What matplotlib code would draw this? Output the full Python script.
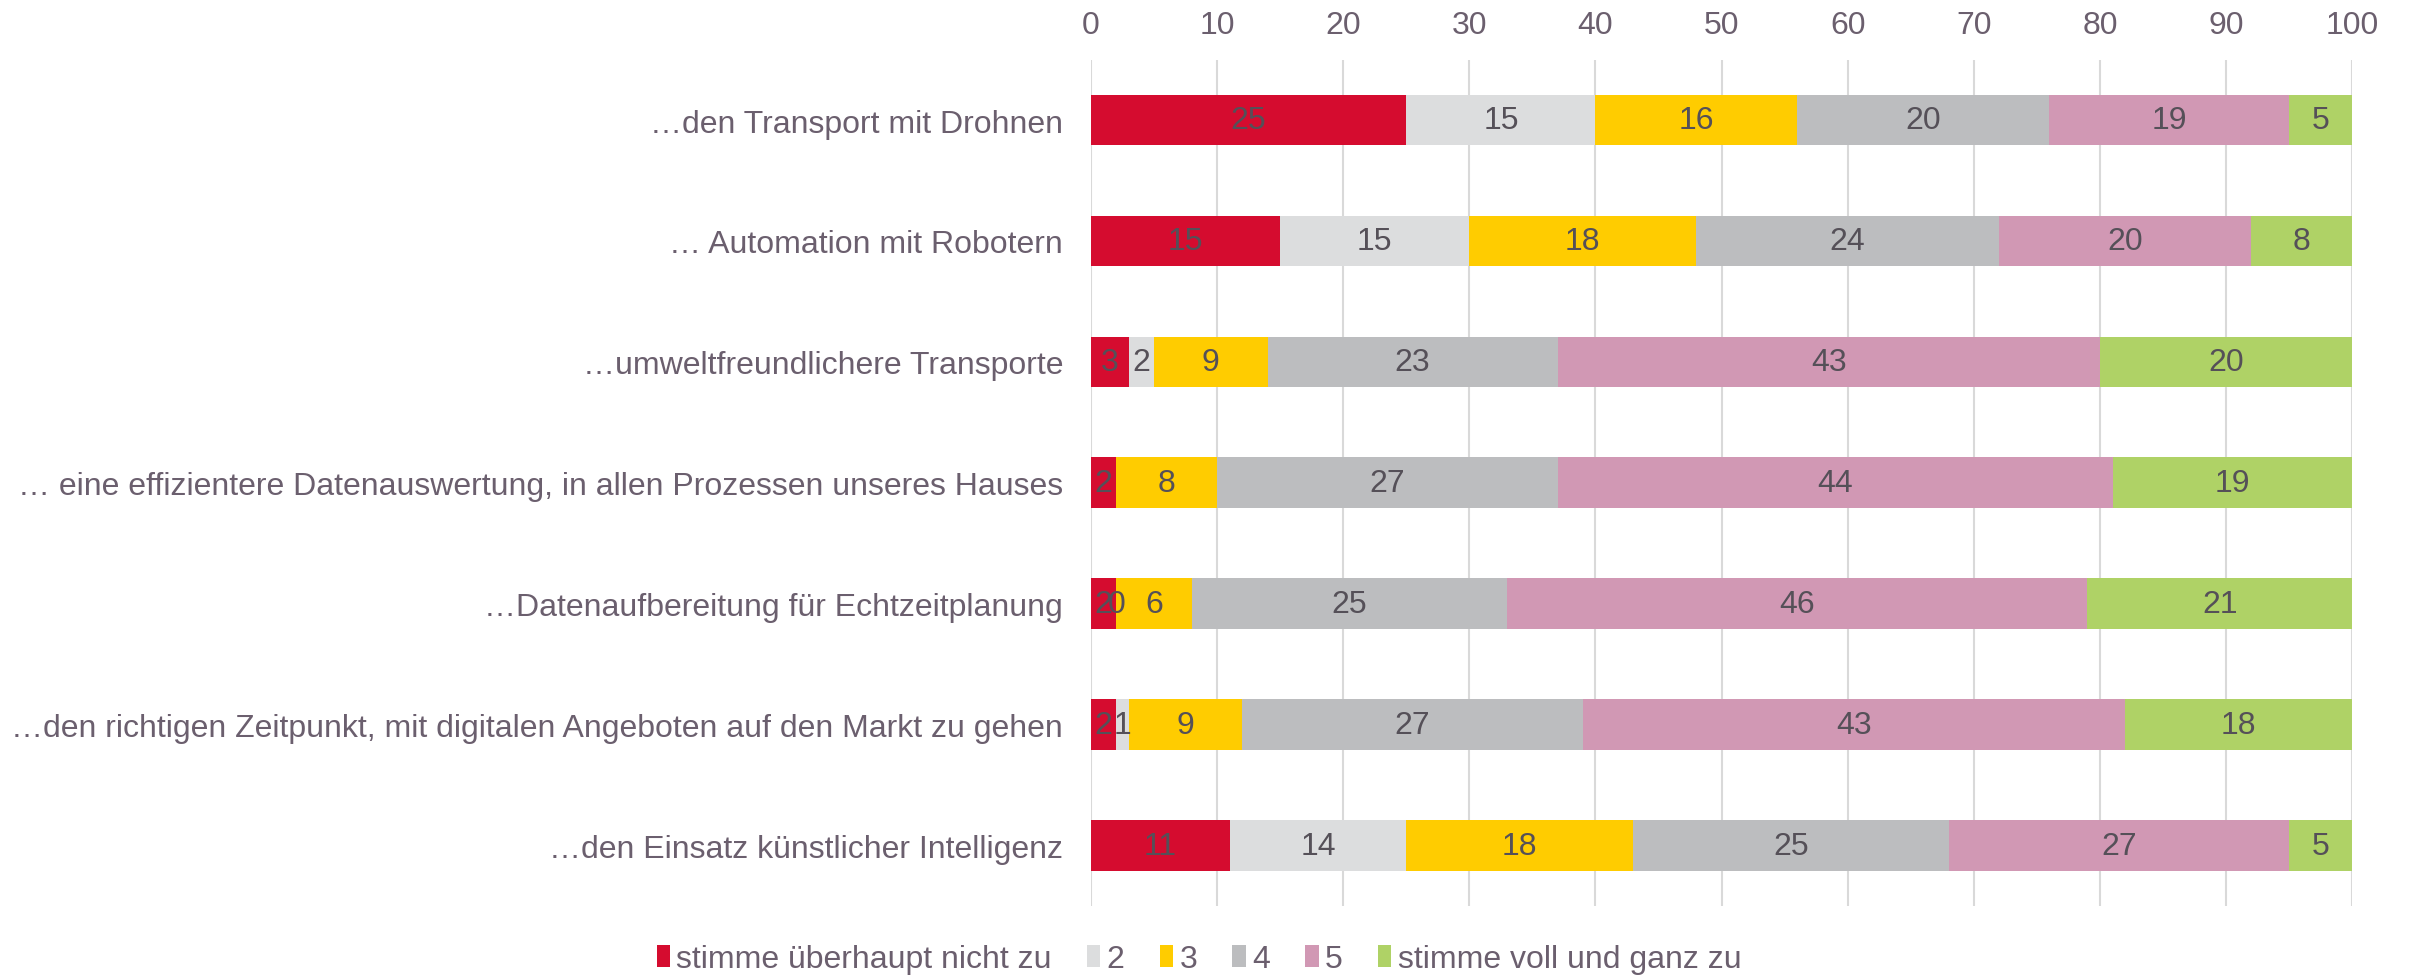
import numpy as np
import matplotlib.pyplot as plt

plt.rcParams['font.family'] = ['Liberation Sans', 'DejaVu Sans']

categories = [
    '…den Transport mit Drohnen',
    '… Automation mit Robotern',
    '…umweltfreundlichere Transporte',
    '… eine effizientere Datenauswertung, in allen Prozessen unseres Hauses',
    '…Datenaufbereitung für Echtzeitplanung',
    '…den richtigen Zeitpunkt, mit digitalen Angeboten auf den Markt zu gehen',
    '…den Einsatz künstlicher Intelligenz',
]
series_names = ['stimme überhaupt nicht zu', '2', '3', '4', '5', 'stimme voll und ganz zu']
s1 = [25, 15, 3, 2, 2, 2, 11]
s2 = [15, 15, 2, np.nan, 0, 1, 14]
s3 = [16, 18, 9, 8, 6, 9, 18]
s4 = [20, 24, 23, 27, 25, 27, 25]
s5 = [19, 20, 43, 44, 46, 43, 27]
s6 = [5, 8, 20, 19, 21, 18, 5]
colors = ['#D50C2F', '#DCDDDE', '#FFCC00', '#BCBDBF', '#D198B4', '#AFD266']

text_col = '#6B5F6E'
label_col = '#555058'
fs = 23

fig = plt.figure(figsize=(24.1, 9.78), dpi=100)
ax = fig.add_axes([0.4527, 0.0726, 0.5233, 0.8654])

y = np.arange(len(categories))
left = np.zeros(len(categories))
for name, vals, c in zip(series_names, [s1, s2, s3, s4, s5, s6], colors):
    v = np.nan_to_num(np.array(vals, dtype=float))
    ax.barh(y, v, left=left, height=0.42, color=c, label=name, zorder=3)
    for yi, (raw, l) in enumerate(zip(vals, left)):
        if not np.isnan(raw):
            ax.text(l + raw / 2, yi, f'{int(raw)}', ha='center', va='center',
                    fontsize=fs, color=label_col, zorder=4)
    left += v

ax.set_xlim(0, 100)
ax.set_ylim(len(categories) - 0.5, -0.5)
ax.set_xticks(range(0, 101, 10))
ax.xaxis.tick_top()
ax.tick_params(axis='x', length=0, labelsize=fs, labelcolor=text_col, pad=14)
ax.set_yticks(y)
ax.set_yticklabels(categories)
ax.tick_params(axis='y', length=0, labelsize=fs, labelcolor=text_col, pad=20)
ax.grid(axis='x', color='#D9D9D9', linewidth=1.5, zorder=0)
for s in ax.spines.values():
    s.set_visible(False)

fig.legend(loc='center', bbox_to_anchor=(0.4975, 0.018), ncol=6, frameon=False,
           fontsize=fs, labelcolor=text_col, handlelength=0.42, handleheight=0.7,
           handletextpad=0.2, columnspacing=1.1, borderpad=0.1)

fig.savefig('out.png', dpi=100)
